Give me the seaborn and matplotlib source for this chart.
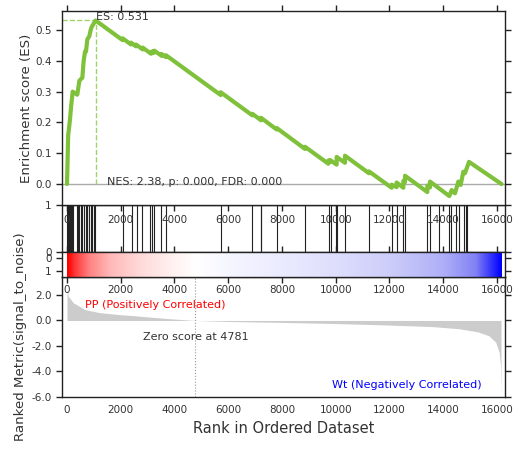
import numpy as np
import pandas as pd
import matplotlib
matplotlib.use("Agg")
import matplotlib.pyplot as plt
import seaborn as sns
from matplotlib.colors import LinearSegmentedColormap

# ---------------- data ----------------
es_rank = [0, 45, 60, 112, 150, 211, 380, 400, 459, 508, 571, 620, 670, 707, 757, 831, 880, 918, 1065,
           2071, 2071, 2381, 2381, 2567, 2567, 2816, 2816, 3126, 3126, 3188, 3188, 3250, 3250,
           3522, 3522, 3684, 3684, 5718, 5718, 6896, 6896, 7219, 7219, 7802, 7802, 8856, 8856,
           9724, 9724, 9786, 9786, 10034, 10034, 10344, 10344, 11237, 11237, 12081, 12081,
           12267, 12267, 12515, 12515, 12577, 12577, 13408, 13408, 13507, 13507, 14226, 14313,
           14437, 14561, 14648, 14747, 14809, 14958, 16170]
es_vals = [0.0, 0.16, 0.17, 0.21, 0.25, 0.30, 0.29, 0.30, 0.335, 0.34, 0.345, 0.40, 0.43, 0.43, 0.47, 0.48, 0.50, 0.51, 0.531,
           0.467, 0.473, 0.453, 0.459, 0.447, 0.453, 0.437, 0.443, 0.423, 0.429, 0.425, 0.431, 0.427, 0.433,
           0.416, 0.422, 0.412, 0.418, 0.289, 0.298, 0.223, 0.228, 0.207, 0.215, 0.177, 0.182, 0.114, 0.121,
           0.066, 0.076, 0.072, 0.078, 0.063, 0.088, 0.069, 0.092, 0.035, 0.041, -0.012, -0.002,
           -0.010, 0.005, -0.012, 0.010, 0.006, 0.027, -0.026, -0.005, -0.011, 0.008, -0.039, -0.0195,
           -0.030, 0.008, -0.003, 0.040, 0.035, 0.072, 0.0]

hit_ranks = [12, 50, 74, 112, 137, 149, 197, 211, 384, 398, 459, 510, 571, 644, 707, 733, 757, 830, 893,
             918, 1016, 1042, 2096, 2431, 2593, 2801, 3088, 3151, 3237, 3498, 3684, 5718, 6896, 7210,
             7228, 7802, 8856, 9761, 9823, 10025, 10043, 10344, 11237, 12081, 12267, 12515, 12577,
             13408, 13507, 13854, 14214, 14288, 14474, 14598, 14784, 14846, 14900]

metric_rank = [0, 50, 230, 670, 1200, 2000, 2470, 3000, 3800, 4781, 6000, 8000, 10000, 12000,
               13600, 14600, 15300, 15700, 15950, 16080, 16130, 16150]
metric_vals = [2.4, 1.9, 1.4, 0.85, 0.62, 0.45, 0.38, 0.28, 0.14, 0.0, -0.08, -0.15, -0.24, -0.36,
               -0.48, -0.65, -0.9, -1.2, -1.7, -2.5, -3.5, -5.7]

cb_ranks = [0, 300, 800, 1600, 2800, 4000, 4781, 6000, 8000, 10000, 12000, 14000, 15200, 16150]
cb_colors = ['#ff0000', '#ff3c3c', '#ff8282', '#ffb9b9', '#ffdcdc', '#fff2f2', '#ffffff',
             '#f6f6ff', '#ebebff', '#dedefd', '#cdcdfa', '#afaff8', '#8282f5', '#0000ff']

es_max = 0.531
es_max_rank = 1065
zero_rank = 4781
n_genes = 16150
x_ticks = [0, 2000, 4000, 6000, 8000, 10000, 12000, 14000, 16000]
es_ticks = [0.0, 0.1, 0.2, 0.3, 0.4, 0.5]
metric_ticks = [2.0, 0.0, -2.0, -4.0, -6.0]

# ---------------- style ----------------
sns.set_style("ticks")
plt.rcParams['font.family'] = ['DejaVu Sans']
TXT = '#333333'
plt.rcParams.update({
    'axes.edgecolor': '#222222', 'axes.linewidth': 1.0,
    'xtick.color': '#222222', 'ytick.color': '#222222',
    'xtick.labelcolor': TXT, 'ytick.labelcolor': TXT,
    'xtick.labelsize': 7.5, 'ytick.labelsize': 7.5,
    'xtick.major.size': 4, 'ytick.major.size': 4,
    'xtick.major.width': 1, 'ytick.major.width': 1,
    'xtick.direction': 'out', 'ytick.direction': 'out',
})

fig = plt.figure(figsize=(5.13, 4.49), dpi=100)
L, W = 62 / 513, 443 / 513
def rect(top, bot):
    return [L, (449 - bot) / 449, W, (bot - top) / 449]

XLIM = (-186, 16298)

# ranked metric axes
ax_rm = fig.add_axes(rect(277, 397))
ax_rm.fill_between(metric_rank, metric_vals, 0, color='#cccccc', lw=0)
ax_rm.set_xlim(*XLIM)
ax_rm.set_ylim(-6.0, 3.41)
ax_rm.set_yticks(metric_ticks)
ax_rm.set_yticklabels([f'{v:.1f}' for v in metric_ticks])
ax_rm.set_xticks(x_ticks)
ax_rm.tick_params(axis='x', bottom=True, length=0, pad=6)
ax_rm.tick_params(axis='y', left=True, right=True)
ax_rm.axvline(zero_rank, color='#999999', lw=0.8, ls=':')
ax_rm.text(zero_rank, 0.5, f'Zero score at {zero_rank}', transform=ax_rm.get_xaxis_transform(),
           ha='center', va='center', fontsize=8, color=TXT)
ax_rm.text(0.052, 0.81, 'PP (Positively Correlated)', transform=ax_rm.transAxes, color='red',
           ha='left', va='top', fontsize=8)
ax_rm.text(0.947, 0.06, 'Wt (Negatively Correlated)', transform=ax_rm.transAxes, color='blue',
           ha='right', va='bottom', fontsize=8)
ax_rm.set_xlabel('Rank in Ordered Dataset', fontsize=10.5, color=TXT)
ax_rm.xaxis.set_label_coords(0.5, -0.2)
ax_rm.set_ylabel('Ranked Metric(signal_to_noise)', fontsize=9.6, color=TXT)
ax_rm.yaxis.set_label_coords(-0.079, 0.5)

# hits axes
ax_h = fig.add_axes(rect(205, 252))
ax_h.vlines(hit_ranks, 0, 1, color='#222222', lw=0.8)
ax_h.set_xlim(*XLIM)
ax_h.set_ylim(0, 1)
ax_h.set_yticks([0, 1])
ax_h.set_xticks([])
ax_h.tick_params(axis='y', left=True, right=True)

# colorbar axes
ax_cb = fig.add_axes(rect(252, 277))
cmap = LinearSegmentedColormap.from_list('gsea', list(zip(np.array(cb_ranks) / n_genes, cb_colors)))
grad = np.vstack([np.arange(n_genes), np.arange(n_genes)])
ax_cb.imshow(grad, aspect='auto', cmap=cmap, vmin=0, vmax=n_genes, interpolation='bilinear',
             extent=(0, n_genes, 1.5, -0.5))
ax_cb.set_xlim(*XLIM)
ax_cb.set_ylim(1.5, -0.5)
ax_cb.set_yticks([0, 1])
ax_cb.set_xticks(x_ticks)
ax_cb.tick_params(axis='x', top=True, bottom=True, pad=2)
ax_cb.tick_params(axis='y', left=True, right=True)

# enrichment score axes
ax_es = fig.add_axes(rect(11, 205))
ax_es.axhline(0, color='#aaaaaa', lw=1)
ax_es.plot([XLIM[0], es_max_rank], [es_max, es_max], ls='--', color='#9fd46a', lw=1)
ax_es.plot([es_max_rank, es_max_rank], [0, es_max], ls='--', color='#9fd46a', lw=1)
df = pd.DataFrame({'rank': es_rank, 'es': es_vals})
sns.lineplot(data=df, x='rank', y='es', ax=ax_es, color='#80c13c', lw=3, sort=False, estimator=None)
ax_es.set_xlim(*XLIM)
ax_es.set_ylim(-0.068, 0.5617)
ax_es.set_yticks(es_ticks)
ax_es.set_yticklabels([f'{v:.1f}' for v in es_ticks])
ax_es.set_xticks(x_ticks)
ax_es.tick_params(axis='x', top=True, bottom=True, pad=3)
ax_es.tick_params(axis='y', left=True, right=True)
ax_es.set_xlabel('')
ax_es.set_ylabel('Enrichment score (ES)', fontsize=9.6, color=TXT)
ax_es.yaxis.set_label_coords(-0.065, 0.5)
ax_es.text(es_max_rank + 20, es_max, f'ES: {es_max}', ha='left', va='baseline', fontsize=8, color=TXT)
ax_es.text(1480, -0.003, 'NES: 2.38, p: 0.000, FDR: 0.000', ha='left', va='baseline', fontsize=8, color=TXT)

fig.savefig('out.png', dpi=100)
